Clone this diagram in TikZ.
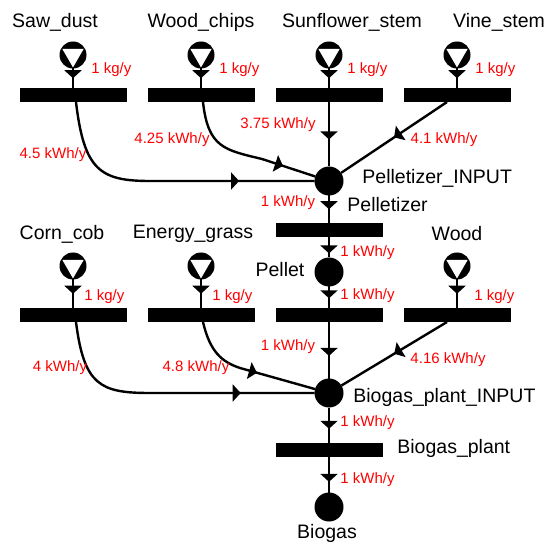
\documentclass[tikz,border=0pt]{standalone}
\usepackage{fontspec}
\setmainfont{Liberation Sans}
\usetikzlibrary{arrows.meta,decorations.markings}

\begin{document}
\begin{tikzpicture}[x=0.5pt,y=-0.5pt,
    src/.style = {circle,fill=black,minimum size=13.5pt,inner sep=0pt,outer sep=0pt,
        path picture={\fill[white] (path picture bounding box.center) ++(150:6.2pt) -- ++(0:10.74pt) -- ++(240:10.74pt) -- cycle;}},
    bar/.style = {rectangle,fill=black,minimum width=53.5pt,minimum height=7pt,inner sep=0pt,outer sep=0pt},
    hub/.style = {circle,fill=black,minimum size=14.5pt,inner sep=0pt,outer sep=0pt},
    flow/.style = {line width=1.2pt,postaction={decorate},
        decoration={markings,mark=at position #1 with {\arrow{Triangle[width=8.5pt,length=4pt]}}}},
    tag/.style = {inner sep=0pt,font=\fontsize{9.75pt}{11pt}\selectfont},
    val/.style = {inner sep=0pt,text=red,font=\fontsize{7.5pt}{9pt}\selectfont}]
    \useasboundingbox (0,0) rectangle (546,545);
    \foreach \s/\x/\lx/\txt in {saw/73/55/Saw\_dust,chips/201/201/Wood\_chips,sun/329/352/Sunflower\_stem,vine/457/499/Vine\_stem} {
        \node[tag] at (\lx,22) {\txt};
        \node[src] (\s) at (\x,55) {};
        \node[bar] (\s-bar) at (\x,95) {};
        \draw[flow=0.5] (\s) -- (\s-bar);
        \node[val,anchor=west] at (\x+18,70) {1 kg/y};
    }
    \foreach \s/\x/\lx/\kx/\txt in {corn/73/62/84/Corn\_cob,grass/201/193/212/Energy\_grass,wood/457/457/474/Wood} {
        \node[tag] at (\lx,234) {\txt};
        \node[src] (\s) at (\x,266) {};
        \node[bar] (\s-bar) at (\x,315) {};
        \draw[flow=0.5] (\s) -- (\s-bar);
        \node[val,anchor=west] at (\kx,297) {1 kg/y};
    }
    \node[hub] (pin) at (329,181) {};
    \node[bar] (pelletizer) at (329,230) {};
    \node[hub] (pellet) at (329,272) {};
    \node[bar] (pel-bar) at (329,315) {};
    \node[hub] (bin) at (329,393) {};
    \node[bar] (plant) at (329,450) {};
    \node[hub] (biogas) at (329,507) {};
    \draw[flow=0.74] ([xshift=1.5pt]saw-bar.south) .. controls (84,170) and (100,181) .. (150,181) -- (pin);
    \draw[flow=0.77] ([xshift=1pt]chips-bar.south) .. controls (208,148) and (225,150) .. (262,159) -- (pin);
    \draw[flow=0.58] (sun-bar) -- (pin);
    \draw[flow=0.5] ([xshift=-5pt]vine-bar.south) -- (pin);
    \draw[flow=0.5] (pin) -- (pelletizer);
    \draw[flow=0.8] (pelletizer) -- (pellet);
    \draw[flow=0.55] (pellet) -- (pel-bar);
    \draw[flow=0.74] ([xshift=1.5pt]corn-bar.south) .. controls (84,385) and (100,393) .. (150,393) -- (bin);
    \draw[flow=0.57] ([xshift=1pt]grass-bar.south) .. controls (210,352) and (222,362) .. (240,368) -- (bin);
    \draw[flow=0.6] (pel-bar) -- (bin);
    \draw[flow=0.5] ([xshift=-5pt]wood-bar.south) -- (bin);
    \draw[flow=0.6] (bin) -- (plant);
    \draw[flow=0.7] (plant) -- (biogas);
    \node[tag,anchor=west] at (362,178) {Pelletizer\_INPUT};
    \node[tag,anchor=west] at (347,205) {Pelletizer};
    \node[tag] at (280,270) {Pellet};
    \node[tag,anchor=west] at (353,397) {Biogas\_plant\_INPUT};
    \node[tag,anchor=west] at (397,448) {Biogas\_plant};
    \node[tag] at (327,533) {Biogas};
    \node[val] at (53,155) {4.5 kWh/y};
    \node[val] at (172,140) {4.25 kWh/y};
    \node[val] at (278,125) {3.75 kWh/y};
    \node[val] at (444,140) {4.1 kWh/y};
    \node[val] at (288,203) {1 kWh/y};
    \node[val,anchor=west] at (340,253) {1 kWh/y};
    \node[val,anchor=west] at (340,296) {1 kWh/y};
    \node[val] at (288,347) {1 kWh/y};
    \node[val] at (60,368) {4 kWh/y};
    \node[val] at (196,368) {4.8 kWh/y};
    \node[val] at (448,360) {4.16 kWh/y};
    \node[val,anchor=west] at (340,423) {1 kWh/y};
    \node[val,anchor=west] at (340,480) {1 kWh/y};
\end{tikzpicture}
\end{document}
